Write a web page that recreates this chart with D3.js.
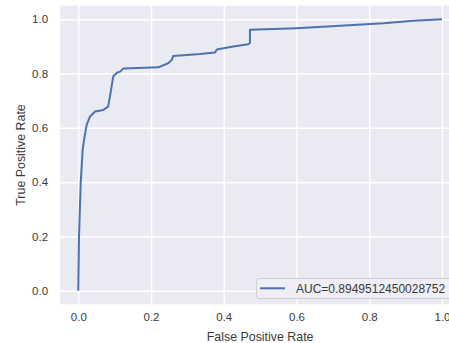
<!DOCTYPE html>
<html>
<head>
<meta charset="utf-8">
<script src="https://cdnjs.cloudflare.com/ajax/libs/d3/7.8.5/d3.min.js"></script>
<style>
	body{ margin:0; background:white; }
	svg{ display:block; font-family:"Liberation Sans", Arial, sans-serif; }
</style>
</head>
<body>
<svg id="chart" width="449" height="343"></svg>
<script>
	// ROC curve
	var fpr = [0, 0.002, 0.0066, 0.012, 0.0157, 0.023, 0.032, 0.046, 0.069, 0.082, 0.087, 0.096, 0.106, 0.115, 0.124, 0.22, 0.247, 0.257, 0.261, 0.335, 0.376, 0.381, 0.422, 0.467, 0.472, 0.472, 0.6, 0.72, 0.839, 0.921, 1.0];
	var tpr = [0, 0.199, 0.397, 0.518, 0.555, 0.611, 0.641, 0.660, 0.666, 0.678, 0.715, 0.789, 0.803, 0.807, 0.819, 0.823, 0.838, 0.850, 0.865, 0.872, 0.878, 0.889, 0.899, 0.908, 0.913, 0.961, 0.967, 0.976, 0.985, 0.995, 1.0];
	var xTicks = [0, 0.2, 0.4, 0.6, 0.8, 1.0];
	var yTicks = [0, 0.2, 0.4, 0.6, 0.8, 1.0];
	var legendLabel = "AUC=0.8949512450028752";

	var svg = d3.select("#chart");

	var x = d3.scaleLinear().domain([-0.05, 1.05]).range([60.1, 460.2]);
	var y = d3.scaleLinear().domain([-0.05, 1.05]).range([304.3, 5.7]);

	// plot background
	svg.append("rect")
		.attr("x", x(-0.05))
		.attr("y", y(1.05))
		.attr("width", x(1.05) - x(-0.05))
		.attr("height", y(-0.05) - y(1.05))
		.attr("fill", "#EAEAF2");

	// grid + tick labels
	var xAxis = svg.append("g")
		.attr("transform", "translate(0," + y(-0.05) + ")")
		.call(d3.axisBottom(x).tickValues(xTicks).tickFormat(d3.format(".1f"))
			.tickSize(-(y(-0.05) - y(1.05))).tickPadding(9));
	var yAxis = svg.append("g")
		.attr("transform", "translate(" + x(-0.05) + ",0)")
		.call(d3.axisLeft(y).tickValues(yTicks).tickFormat(d3.format(".1f"))
			.tickSize(-(x(1.05) - x(-0.05))).tickPadding(12));

	[xAxis, yAxis].forEach(function(a){
		a.select(".domain").remove();
		a.selectAll(".tick line").attr("stroke", "white").attr("stroke-width", 1.5);
		a.selectAll(".tick text").attr("fill", "#3a3a3a").style("font-size", "11.5px")
			.style("font-family", "Liberation Sans, Arial, sans-serif");
	});

	// curve
	var pts = fpr.map(function(d, i){ return [d, tpr[i]]; });
	svg.append("path")
		.datum(pts)
		.attr("fill", "none")
		.attr("stroke", "#4C72B0")
		.attr("stroke-width", 2)
		.attr("stroke-linejoin", "round")
		.attr("d", d3.line().x(function(d){ return x(d[0]); }).y(function(d){ return y(d[1]); }));

	// axis labels
	svg.append("text")
		.attr("x", x(0.5))
		.attr("y", 341)
		.attr("text-anchor", "middle")
		.attr("fill", "#3a3a3a")
		.style("font-size", "12.4px")
		.text("False Positive Rate");

	svg.append("text")
		.attr("transform", "translate(25," + y(0.5) + ") rotate(-90)")
		.attr("text-anchor", "middle")
		.attr("fill", "#3a3a3a")
		.style("font-size", "12.4px")
		.text("True Positive Rate");

	// legend
	var lg = svg.append("g").attr("transform", "translate(256,278)");
	lg.append("rect")
		.attr("x", 0.5).attr("y", 0.5)
		.attr("width", 220).attr("height", 20)
		.attr("rx", 2.5)
		.attr("fill", "#EEEEF4")
		.attr("stroke", "#d0d0d0")
		.attr("stroke-width", 1);
	lg.append("line")
		.attr("x1", 4).attr("x2", 29)
		.attr("y1", 10.3).attr("y2", 10.3)
		.attr("stroke", "#4C72B0").attr("stroke-width", 2);
	lg.append("text")
		.attr("x", 40).attr("y", 14.5)
		.attr("fill", "#3a3a3a")
		.style("font-size", "12px")
		.text(legendLabel);
</script>
</body>
</html>
